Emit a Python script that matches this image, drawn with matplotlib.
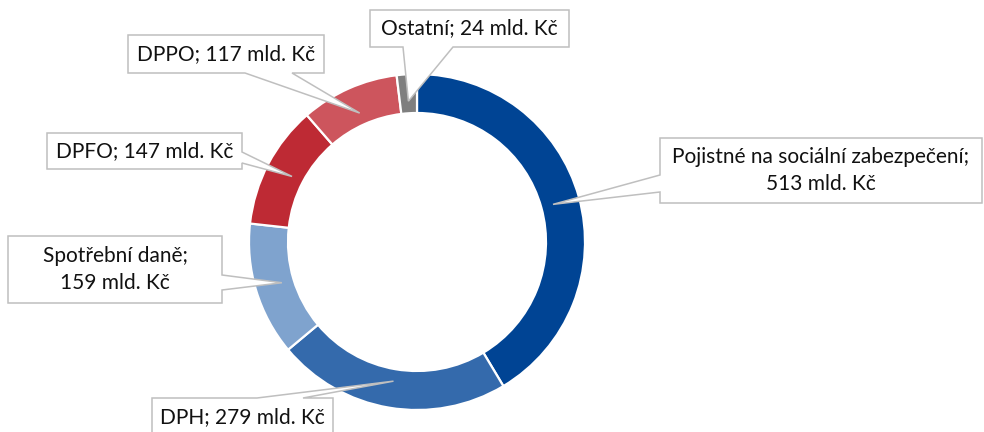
import numpy as np
import matplotlib.pyplot as plt
from matplotlib.patches import Polygon

plt.rcParams['font.family'] = ['Lato', 'DejaVu Sans']

labels = ['Pojistné na sociální zabezpečení;\n513 mld. Kč', 'DPH; 279 mld. Kč',
          'Spotřební daně;\n159 mld. Kč', 'DPFO; 147 mld. Kč',
          'DPPO; 117 mld. Kč', 'Ostatní; 24 mld. Kč']
values = [513, 279, 159, 147, 117, 24]
colors = ['#004494', '#346AAC', '#7FA3CE', '#BE2A34', '#CD555D', '#7F7F7F']

# callout boxes in pixel coords (x0, y0, x1, y1), side of pointer, pointer base
boxes = [
    ((660, 138, 982, 203), 'left', (175, 192)),
    ((152, 398, 333, 445), 'top', (257, 303)),
    ((8, 236, 222, 303), 'right', (275, 290)),
    ((47, 133, 242, 169), 'right', (152, 163)),
    ((128, 35, 324, 73), 'bottom', (245, 292)),
    ((370, 10, 569, 47), 'bottom', (403, 453)),
]

W, H = 984, 432
fig = plt.figure(figsize=(W / 100, H / 100), dpi=100)
ax = fig.add_axes([0, 0, 1, 1])

cx, cy = 417, H - 242
R, width = 168, 39
ax.pie(values, colors=colors, startangle=90, counterclock=False,
       radius=R, center=(cx, cy), frame=True,
       wedgeprops=dict(width=width, edgecolor='white', linewidth=1.6))
ax.set_xlim(0, W)
ax.set_ylim(0, H)
ax.set_aspect('equal')
ax.axis('off')

total = sum(values)
cum = np.cumsum([0] + values)
for i, (lab, (box, side, base)) in enumerate(zip(labels, boxes)):
    mid = (cum[i] + values[i] / 2) / total * 2 * np.pi
    r = 0.84 * R
    tip = (cx + r * np.sin(mid), cy + r * np.cos(mid))
    x0, y0, x1, y1 = box
    a, b = base
    if side == 'bottom':
        pts = [(x0, y0), (x1, y0), (x1, y1), (b, y1), None, (a, y1), (x0, y1)]
    elif side == 'top':
        pts = [(x0, y0), (a, y0), None, (b, y0), (x1, y0), (x1, y1), (x0, y1)]
    elif side == 'right':
        pts = [(x0, y0), (x1, y0), (x1, a), None, (x1, b), (x1, y1), (x0, y1)]
    else:
        pts = [(x0, y0), (x1, y0), (x1, y1), (x0, y1), (x0, b), None, (x0, a)]
    verts = [tip if p is None else (p[0], H - p[1]) for p in pts]
    ax.add_patch(Polygon(verts, closed=True, facecolor='white',
                         edgecolor='#BFBFBF', linewidth=1.1, zorder=5))
    tcy = (y0 + y1) / 2 if side != 'top' else y0 + 19
    ax.text((x0 + x1) / 2, H - tcy, lab, ha='center', va='center',
            fontsize=15, color='#111111', linespacing=1.45, zorder=6)

fig.savefig('out.png', dpi=100)
